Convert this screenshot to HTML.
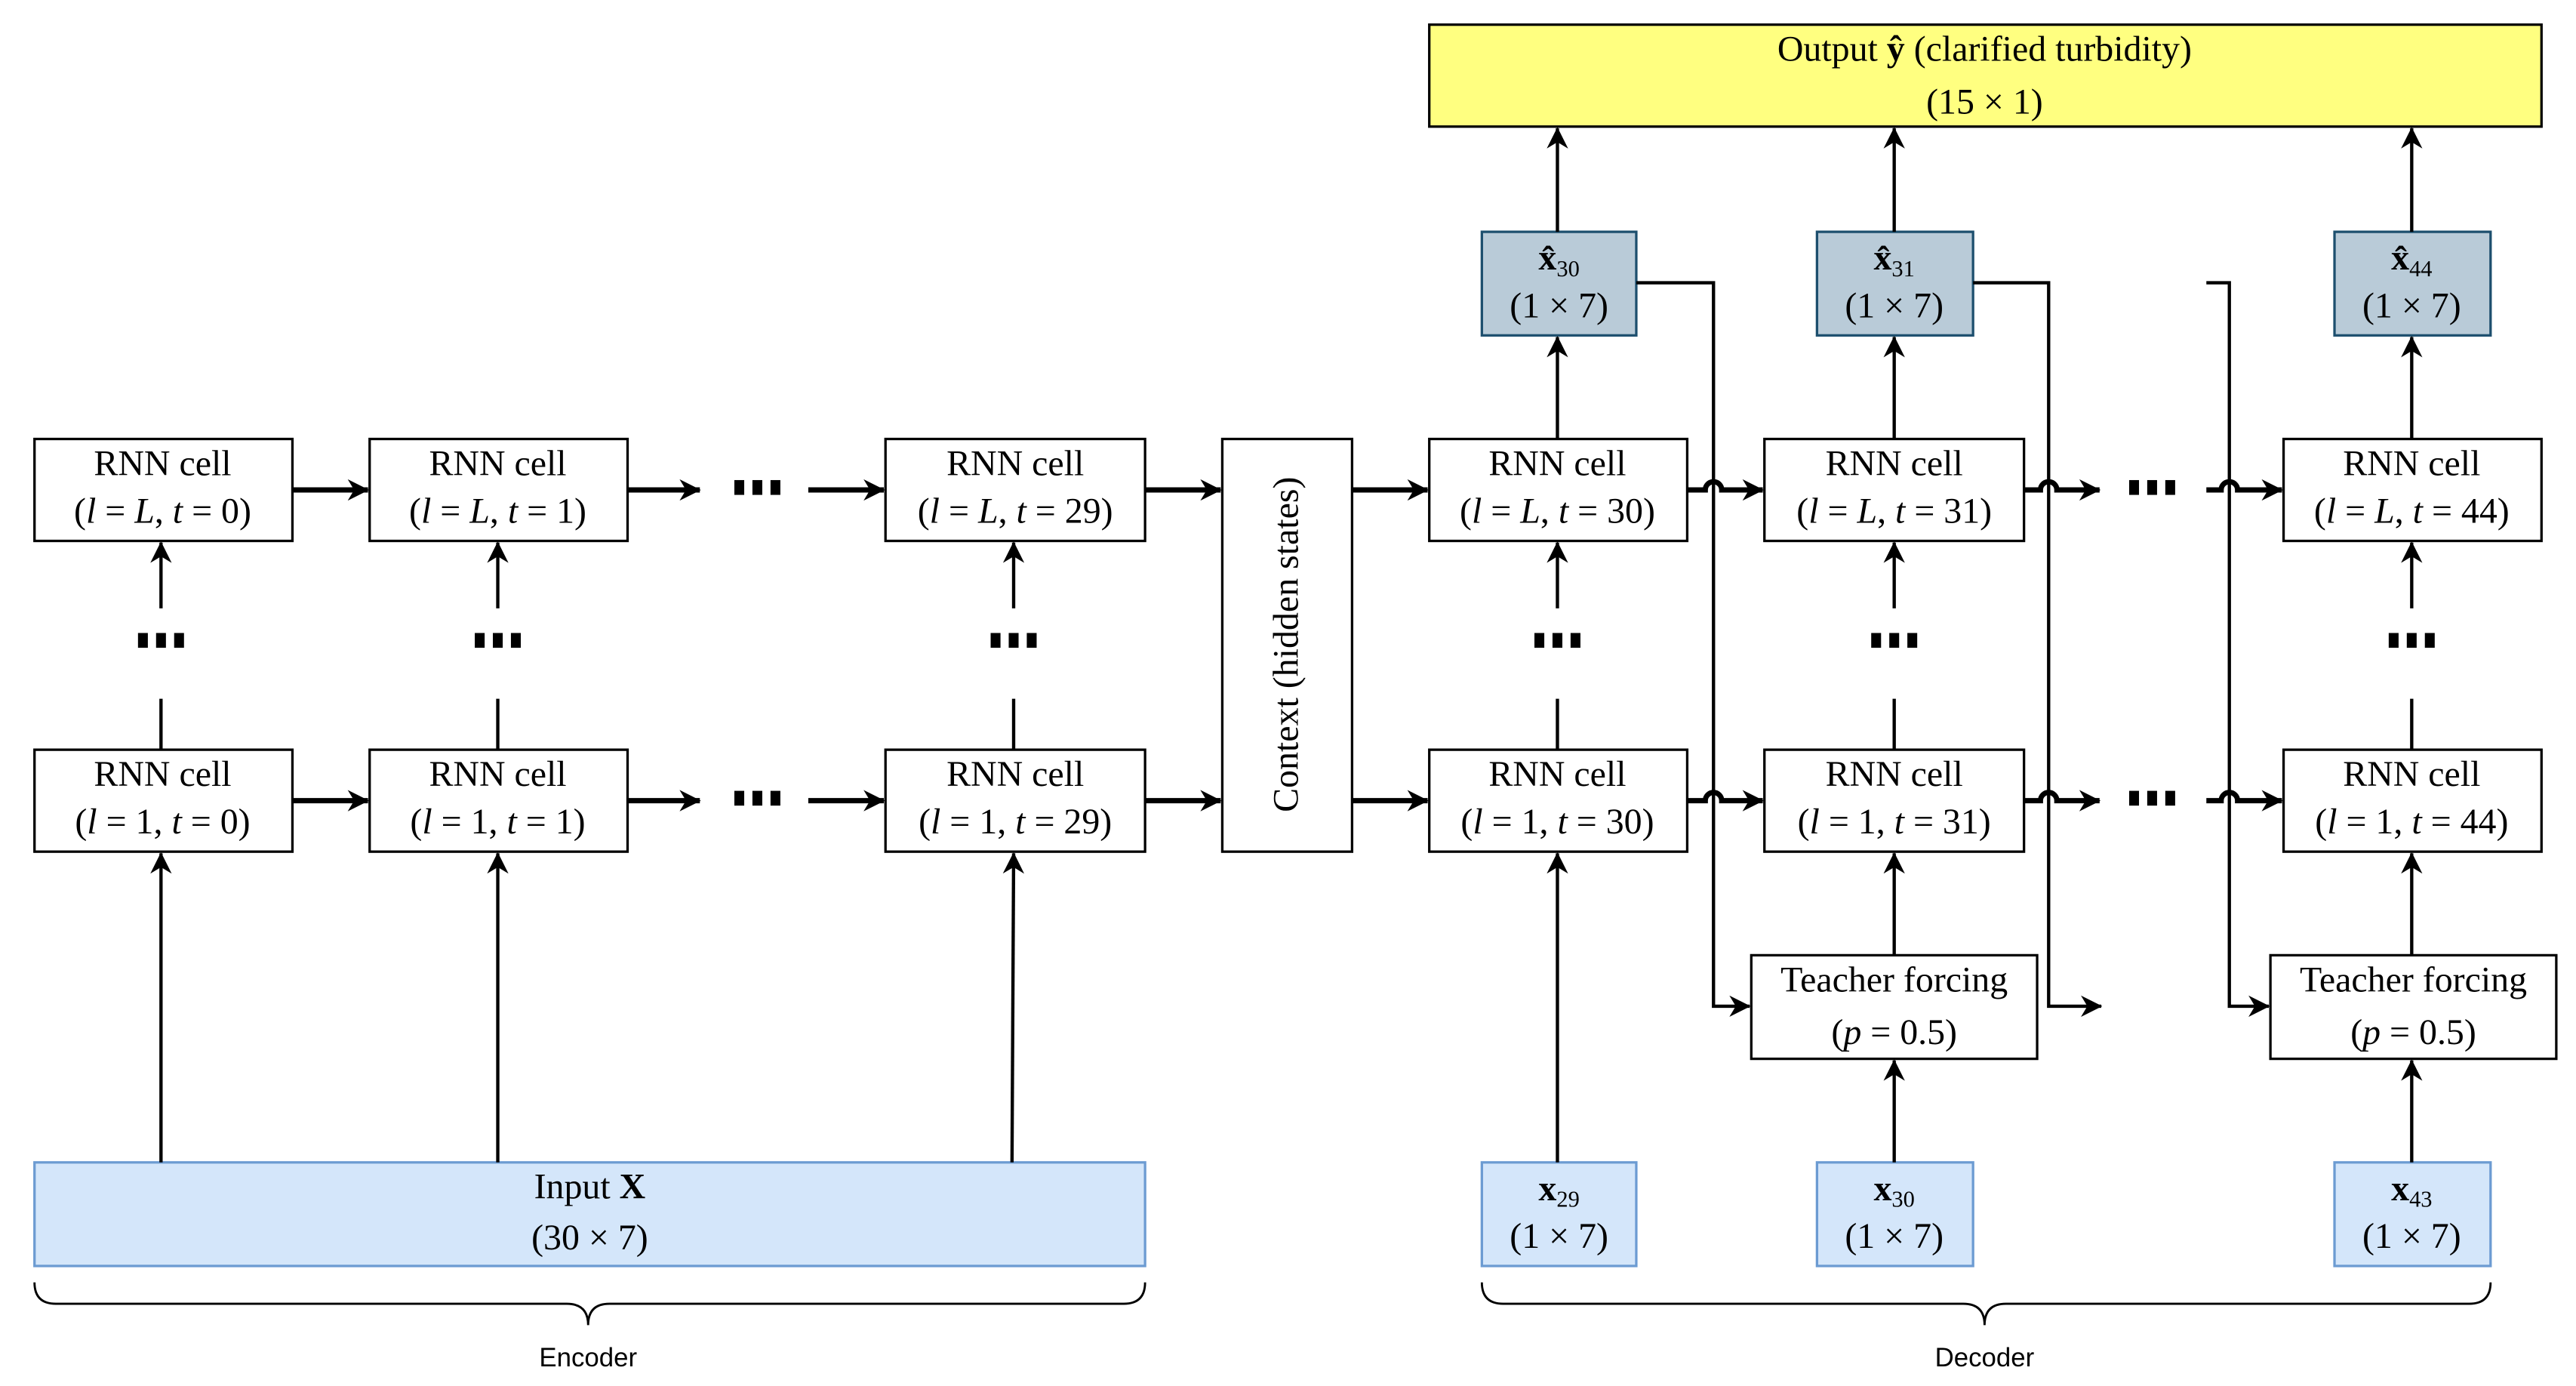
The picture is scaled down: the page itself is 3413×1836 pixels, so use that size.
<!DOCTYPE html>
<html><head><meta charset="utf-8"><style>
html,body{margin:0;padding:0;background:#fff;}
svg{display:block;}
text{font-family:"Liberation Serif",serif;font-size:22px;fill:#000;}
.s{font-family:"Liberation Sans",sans-serif;font-size:16px;}
.i{font-style:italic;}
</style></head><body>
<svg width="3413" height="1836" viewBox="0 0 1568 843" preserveAspectRatio="none" xmlns="http://www.w3.org/2000/svg">
<defs>
<marker id="a" viewBox="0 0 10 10" refX="9.5" refY="5" markerWidth="13" markerHeight="13" markerUnits="userSpaceOnUse" orient="auto"><path d="M0,0 L10,5 L0,10 L3,5 z" fill="#000"/></marker>
<g id="dv"><rect x="-14" y="385" width="6" height="9"/><rect x="-3" y="385" width="6" height="9"/><rect x="8" y="385" width="6" height="9"/></g>
</defs>
<rect width="1568" height="843" fill="#fff"/>
<!-- output -->
<rect x="870" y="15" width="677" height="62" fill="#ffff80" stroke="#000" stroke-width="1.5"/>
<text x="1208" y="37" text-anchor="middle">Output <tspan font-weight="bold">ŷ</tspan> (clarified turbidity)</text>
<text x="1208" y="69" text-anchor="middle">(15 × 1)</text>

<g fill="#fff" stroke="#000" stroke-width="1.5">
<rect x="21" y="267" width="157" height="62"/><rect x="225" y="267" width="157" height="62"/><rect x="539" y="267" width="158" height="62"/>
<rect x="21" y="456" width="157" height="62"/><rect x="225" y="456" width="157" height="62"/><rect x="539" y="456" width="158" height="62"/>
<rect x="744" y="267" width="79" height="251"/>
<rect x="870" y="267" width="157" height="62"/><rect x="1074" y="267" width="158" height="62"/><rect x="1390" y="267" width="157" height="62"/>
<rect x="870" y="456" width="157" height="62"/><rect x="1074" y="456" width="158" height="62"/><rect x="1390" y="456" width="157" height="62"/>
<rect x="1066" y="581" width="174" height="63"/><rect x="1382" y="581" width="174" height="63"/>
</g>
<rect x="21" y="707" width="676" height="63" fill="#d4e6fa" stroke="#6c9bd2" stroke-width="1.5"/>
<g fill="#d4e6fa" stroke="#6c9bd2" stroke-width="1.5">
<rect x="902" y="707" width="94" height="63"/><rect x="1106" y="707" width="95" height="63"/><rect x="1421" y="707" width="95" height="63"/>
</g>
<g fill="#b9cbd8" stroke="#1d4f6e" stroke-width="1.5">
<rect x="902" y="141" width="94" height="63"/><rect x="1106" y="141" width="95" height="63"/><rect x="1421" y="141" width="95" height="63"/>
</g>

<g text-anchor="middle">
<text x="99" y="289">RNN cell</text><text x="99" y="318">(<tspan class="i">l</tspan> = <tspan class="i">L</tspan>, <tspan class="i">t</tspan> = 0)</text>
<text x="303" y="289">RNN cell</text><text x="303" y="318">(<tspan class="i">l</tspan> = <tspan class="i">L</tspan>, <tspan class="i">t</tspan> = 1)</text>
<text x="618" y="289">RNN cell</text><text x="618" y="318">(<tspan class="i">l</tspan> = <tspan class="i">L</tspan>, <tspan class="i">t</tspan> = 29)</text>
<text x="99" y="478">RNN cell</text><text x="99" y="507">(<tspan class="i">l</tspan> = 1, <tspan class="i">t</tspan> = 0)</text>
<text x="303" y="478">RNN cell</text><text x="303" y="507">(<tspan class="i">l</tspan> = 1, <tspan class="i">t</tspan> = 1)</text>
<text x="618" y="478">RNN cell</text><text x="618" y="507">(<tspan class="i">l</tspan> = 1, <tspan class="i">t</tspan> = 29)</text>
<text x="948" y="289">RNN cell</text><text x="948" y="318">(<tspan class="i">l</tspan> = <tspan class="i">L</tspan>, <tspan class="i">t</tspan> = 30)</text>
<text x="1153" y="289">RNN cell</text><text x="1153" y="318">(<tspan class="i">l</tspan> = <tspan class="i">L</tspan>, <tspan class="i">t</tspan> = 31)</text>
<text x="1468" y="289">RNN cell</text><text x="1468" y="318">(<tspan class="i">l</tspan> = <tspan class="i">L</tspan>, <tspan class="i">t</tspan> = 44)</text>
<text x="948" y="478">RNN cell</text><text x="948" y="507">(<tspan class="i">l</tspan> = 1, <tspan class="i">t</tspan> = 30)</text>
<text x="1153" y="478">RNN cell</text><text x="1153" y="507">(<tspan class="i">l</tspan> = 1, <tspan class="i">t</tspan> = 31)</text>
<text x="1468" y="478">RNN cell</text><text x="1468" y="507">(<tspan class="i">l</tspan> = 1, <tspan class="i">t</tspan> = 44)</text>
<text x="1153" y="603">Teacher forcing</text><text x="1153" y="635">(<tspan class="i">p</tspan> = 0.5)</text>
<text x="1469" y="603">Teacher forcing</text><text x="1469" y="635">(<tspan class="i">p</tspan> = 0.5)</text>
<text x="359" y="729"><tspan>Input </tspan><tspan font-weight="bold">X</tspan></text>
<text x="359" y="760">(30 × 7)</text>
<text x="949" y="164" font-weight="bold">x̂<tspan font-size="14" font-weight="normal" dy="4">30</tspan></text>
<text x="949" y="193">(1 × 7)</text>
<text x="1153" y="164" font-weight="bold">x̂<tspan font-size="14" font-weight="normal" dy="4">31</tspan></text>
<text x="1153" y="193">(1 × 7)</text>
<text x="1468" y="164" font-weight="bold">x̂<tspan font-size="14" font-weight="normal" dy="4">44</tspan></text>
<text x="1468" y="193">(1 × 7)</text>
<text x="949" y="730" font-weight="bold">x<tspan font-size="14" font-weight="normal" dy="4">29</tspan></text>
<text x="949" y="759">(1 × 7)</text>
<text x="1153" y="730" font-weight="bold">x<tspan font-size="14" font-weight="normal" dy="4">30</tspan></text>
<text x="1153" y="759">(1 × 7)</text>
<text x="1468" y="730" font-weight="bold">x<tspan font-size="14" font-weight="normal" dy="4">43</tspan></text>
<text x="1468" y="759">(1 × 7)</text>
<text x="783" y="392" transform="rotate(-90 783 392)" dy="7">Context (hidden states)</text>
<text class="s" x="358" y="831">Encoder</text>
<text class="s" x="1208" y="831">Decoder</text>
</g>

<g fill="#000">
<use href="#dv" x="98"/><use href="#dv" x="303"/><use href="#dv" x="617"/><use href="#dv" x="948"/><use href="#dv" x="1153"/><use href="#dv" x="1468"/>
<use href="#dv" x="461" y="-93"/><use href="#dv" x="461" y="96"/>
<use href="#dv" x="1310" y="-93"/><use href="#dv" x="1310" y="96"/>
</g>

<g stroke="#000" stroke-width="2" fill="none" marker-end="url(#a)">
<path d="M98,370 V330"/><path d="M303,370 V330"/><path d="M617,370 V330"/>
<path d="M948,370 V330"/><path d="M1153,370 V330"/><path d="M1468,370 V330"/>
<path d="M98,707 V519"/><path d="M303,707 V519"/><path d="M616,707 L617,519"/>
<path d="M948,707 V519"/><path d="M1153,581 V519"/><path d="M1468,581 V519"/>
<path d="M1153,707 V645"/><path d="M1468,707 V645"/>
<path d="M948,267 V205"/><path d="M1153,267 V205"/><path d="M1468,267 V205"/>
<path d="M948,141 V78"/><path d="M1153,141 V78"/><path d="M1468,141 V78"/>
<path d="M996,172 H1043 V612 H1065"/>
<path d="M1201,172 H1247 V612 H1279"/>
<path d="M1343,172 H1357 V612 H1381"/>
</g>
<g stroke="#000" stroke-width="2" fill="none">
<path d="M98,456 V425"/><path d="M303,456 V425"/><path d="M617,456 V425"/>
<path d="M948,456 V425"/><path d="M1153,456 V425"/><path d="M1468,456 V425"/>
</g>
<g stroke="#000" stroke-width="3.2" fill="none" marker-end="url(#a)">
<path d="M178,298 H224"/><path d="M382,298 H426"/><path d="M492,298 H538"/><path d="M697,298 H743"/><path d="M823,298 H869"/>
<path d="M178,487 H224"/><path d="M382,487 H426"/><path d="M492,487 H538"/><path d="M697,487 H743"/><path d="M823,487 H869"/>
<path d="M1027,298 H1038 A5,5 0 0 1 1048,298 H1073"/><path d="M1232,298 H1242 A5,5 0 0 1 1252,298 H1278"/><path d="M1343,298 H1352 A5,5 0 0 1 1362,298 H1389"/>
<path d="M1027,487 H1038 A5,5 0 0 1 1048,487 H1073"/><path d="M1232,487 H1242 A5,5 0 0 1 1252,487 H1278"/><path d="M1343,487 H1352 A5,5 0 0 1 1362,487 H1389"/>
</g>
<g stroke="#000" stroke-width="1.3" fill="none">
<path d="M21,780 Q21,793 34,793 H345 Q358,793 358,806 Q358,793 371,793 H684 Q697,793 697,780"/>
<path d="M902,780 Q902,793 915,793 H1195 Q1208,793 1208,806 Q1208,793 1221,793 H1503 Q1516,793 1516,780"/>
</g>
</svg>
</body></html>
